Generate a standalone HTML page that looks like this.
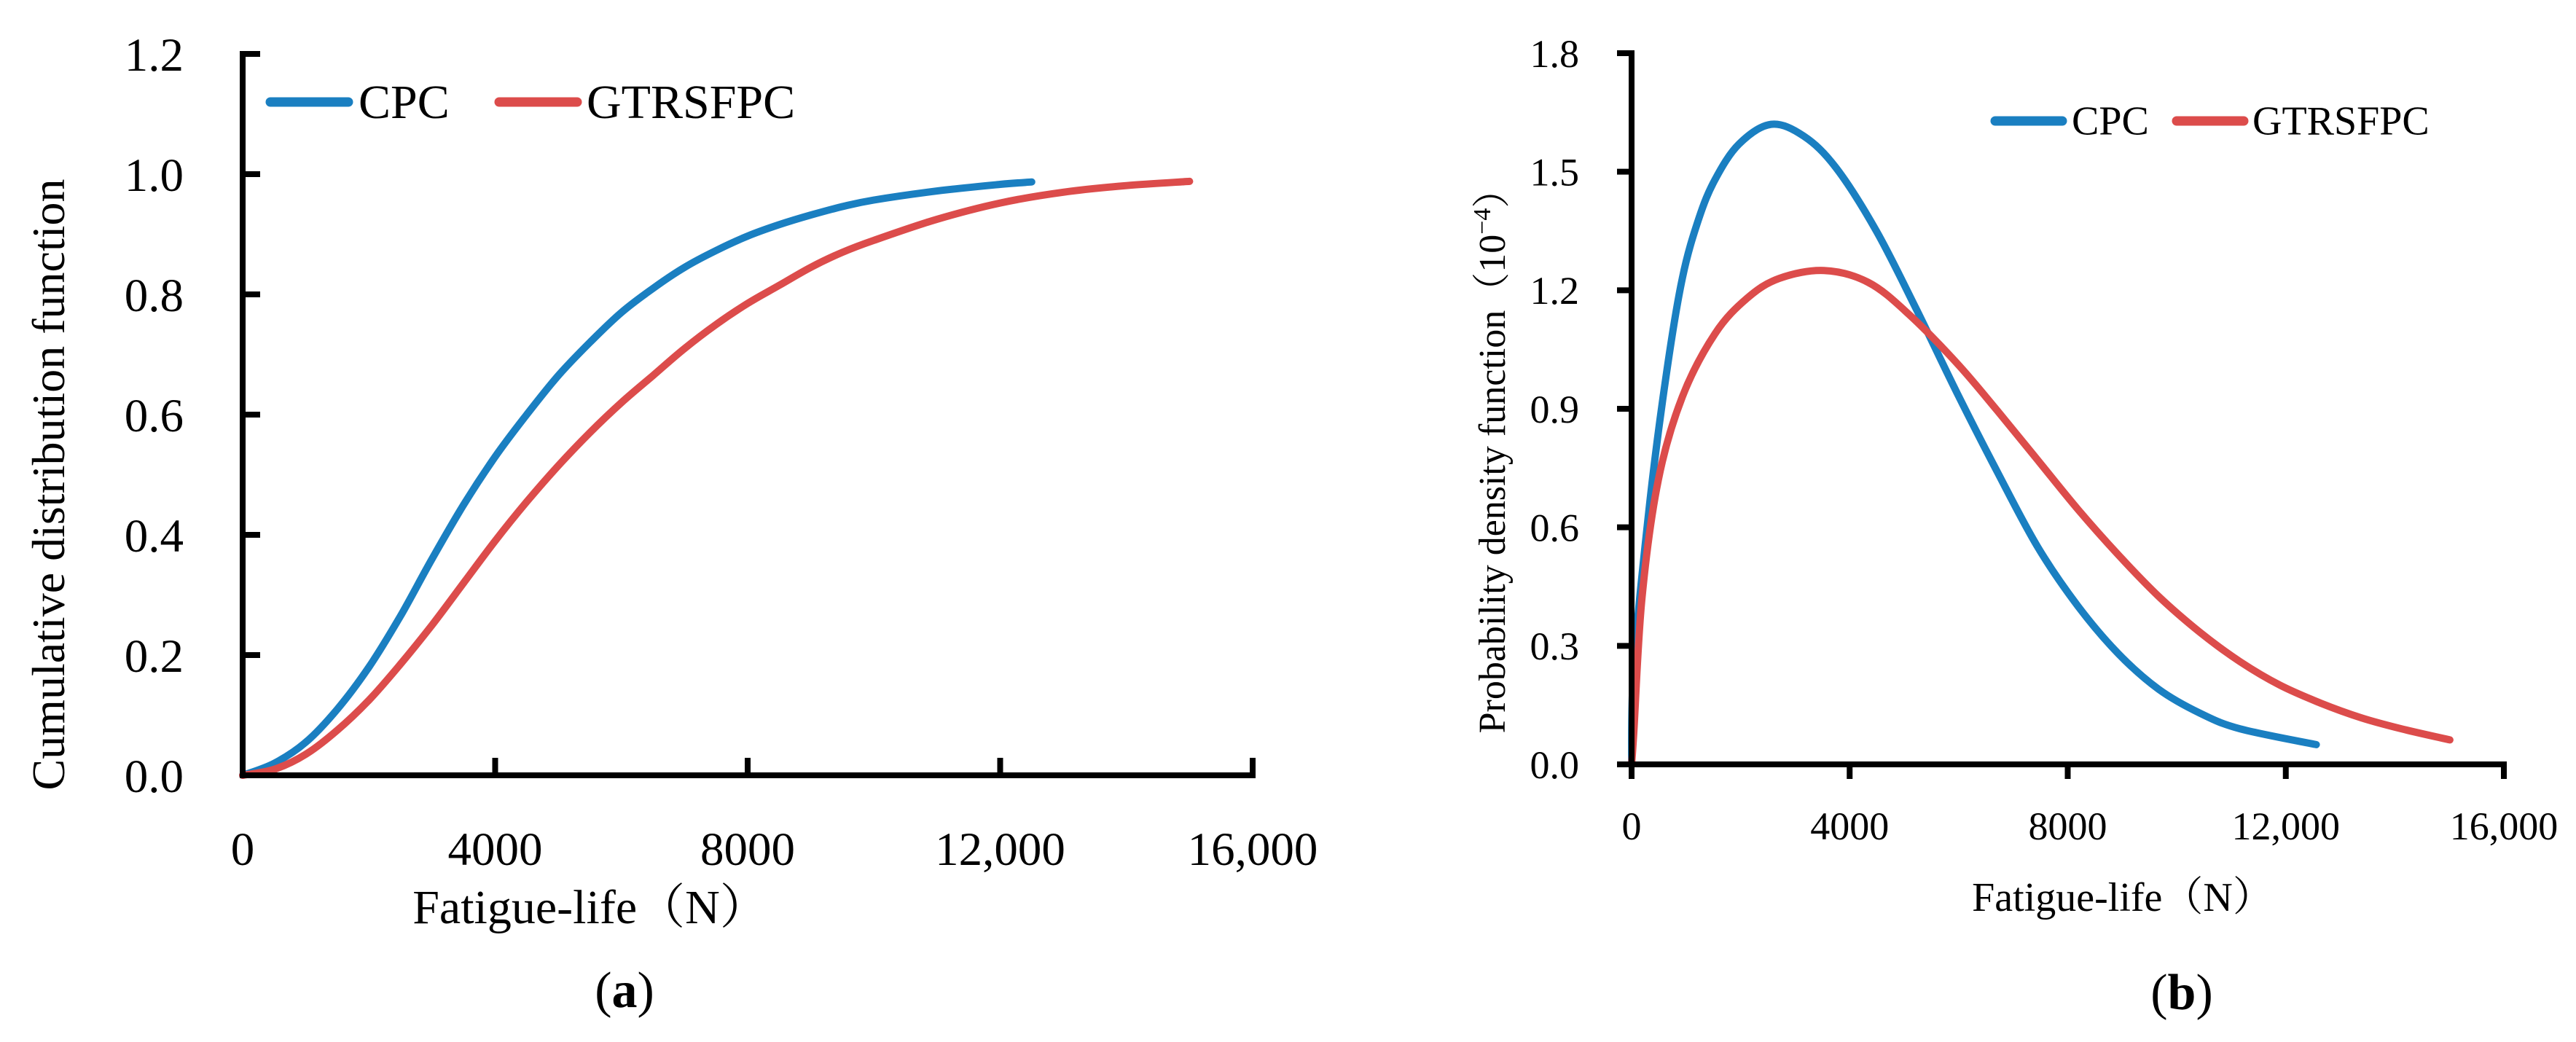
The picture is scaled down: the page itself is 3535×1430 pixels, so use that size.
<!DOCTYPE html>
<html><head><meta charset="utf-8"><style>
html,body{margin:0;padding:0;background:#fff;}
svg{display:block;font-family:"Liberation Serif","Noto Serif CJK SC",serif;}
</style></head><body>
<svg id="fig" width="3535" height="1430" viewBox="0 0 3535 1430" xmlns="http://www.w3.org/2000/svg">
<rect width="3535" height="1430" fill="#fff"/>
<g id="chartA"></g>
<g id="chartB"></g>
<text x="857" y="1382" font-size="70" text-anchor="middle">(<tspan font-weight="bold">a</tspan>)</text>
<text x="2994" y="1385" font-size="70" text-anchor="middle">(<tspan font-weight="bold">b</tspan>)</text>
</svg>
<script>
const NS="http://www.w3.org/2000/svg";
const BLUE="#1a7fc1", RED="#dc4c4b";
// ---- Chart A data (CDF) ----
const cdfCpcX=[0,500,1000,1500,2000,2500,3000,3500,4000,4500,5000,5500,6000,6500,7000,7500,8000,8500,9000,9500,10000,11000,12000,12500];
const cdfCpcY=[0,0.02,0.055,0.11,0.18,0.265,0.36,0.45,0.53,0.60,0.665,0.72,0.77,0.81,0.845,0.873,0.897,0.916,0.932,0.946,0.957,0.972,0.983,0.987];
const cdfGtrX=[0,500,1000,1500,2000,2500,3000,3500,4000,4500,5000,5500,6000,6500,7000,7500,8000,8500,9000,9500,10000,11000,12000,13000,14000,15000];
const cdfGtrY=[0,0.01,0.035,0.075,0.125,0.185,0.25,0.32,0.39,0.455,0.515,0.57,0.62,0.665,0.71,0.75,0.785,0.815,0.845,0.87,0.89,0.925,0.952,0.97,0.981,0.988];
const cdfXTicks=[0,4000,8000,12000,16000];
const cdfXLabels=["0","4000","8000","12,000","16,000"];
const cdfYTicks=[0,0.2,0.4,0.6,0.8,1.0,1.2];
const cdfYLabels=["0.0","0.2","0.4","0.6","0.8","1.0","1.2"];
// ---- Chart B data (PDF, 1e-4) ----
const pdfCpcX=[0,40,340,640,930,1230,1530,1970,2560,3160,3750,4490,5230,5970,6710,7450,8190,8930,9670,10420,11160,12560];
const pdfCpcY=[0,0.25,0.67,0.99,1.23,1.38,1.48,1.57,1.62,1.59,1.51,1.35,1.15,0.94,0.74,0.55,0.40,0.28,0.19,0.13,0.09,0.05];
const pdfGtrX=[0,40,190,490,930,1530,2120,2710,3530,4340,5080,5970,6710,7450,8190,8930,9670,10420,11160,11900,12640,13380,14120,15010];
const pdfGtrY=[0,0.08,0.42,0.72,0.93,1.09,1.18,1.23,1.25,1.22,1.14,1.015,0.895,0.77,0.645,0.53,0.425,0.335,0.26,0.2,0.155,0.118,0.09,0.062];
const pdfXTicks=[0,4000,8000,12000,16000];
const pdfXLabels=["0","4000","8000","12,000","16,000"];
const pdfYTicks=[0,0.3,0.6,0.9,1.2,1.5,1.8];
const pdfYLabels=["0.0","0.3","0.6","0.9","1.2","1.5","1.8"];

function mk(parent,tag,attrs,text){const e=document.createElementNS(NS,tag);for(const k in attrs)e.setAttribute(k,attrs[k]);if(text!==undefined)e.textContent=text;parent.appendChild(e);return e;}
function smooth(pts){let d="M"+pts[0][0].toFixed(1)+","+pts[0][1].toFixed(1);
 for(let i=0;i<pts.length-1;i++){const p0=pts[Math.max(0,i-1)],p1=pts[i],p2=pts[i+1],p3=pts[Math.min(pts.length-1,i+2)];
  const c1=[p1[0]+(p2[0]-p0[0])/6,p1[1]+(p2[1]-p0[1])/6],c2=[p2[0]-(p3[0]-p1[0])/6,p2[1]-(p3[1]-p1[1])/6];
  d+=" C"+c1[0].toFixed(1)+","+c1[1].toFixed(1)+" "+c2[0].toFixed(1)+","+c2[1].toFixed(1)+" "+p2[0].toFixed(1)+","+p2[1].toFixed(1);}
 return d;}

function draw(g,cfg){
 const sx=v=>cfg.x0+(v-cfg.xmin)/(cfg.xmax-cfg.xmin)*(cfg.x1-cfg.x0);
 const sy=v=>cfg.y0-(v-cfg.ymin)/(cfg.ymax-cfg.ymin)*(cfg.y0-cfg.y1);
 cfg.series.forEach(s=>{
  const pts=s.x.map((xv,i)=>[sx(xv),sy(s.y[i])]);
  const p=mk(g,"path",{d:smooth(pts),fill:"none",stroke:s.color,"stroke-width":cfg.lw,"stroke-linecap":"round","stroke-linejoin":"round"});
  
  
 });
 const ax=mk(g,"line",{x1:sx(cfg.xmin),y1:sy(cfg.ymax)-4,x2:sx(cfg.xmin),y2:sy(cfg.ymin)+4,stroke:"#000","stroke-width":8});
 
 
 const bx=mk(g,"line",{x1:sx(cfg.xmin)-4,y1:sy(cfg.ymin),x2:sx(cfg.xmax)+4,y2:sy(cfg.ymin),stroke:"#000","stroke-width":8});
 
 
 cfg.yt.forEach((v,i)=>{
  const y=sy(v);
  const t=mk(g,"line",{x1:sx(cfg.xmin),y1:y,x2:sx(cfg.xmin)+cfg.tickDir*cfg.tl,y2:y,stroke:"#000","stroke-width":8});
  
  
  const l=mk(g,"text",{x:cfg.ylabX,y:y+cfg.fs*0.35,"font-size":cfg.fs,"text-anchor":"end"},cfg.yl[i]);
  
  
 });
 cfg.xt.forEach((v,i)=>{
  const x=sx(v);
  const t=mk(g,"line",{x1:x,y1:sy(cfg.ymin),x2:x,y2:sy(cfg.ymin)-cfg.tickDir*cfg.tl,stroke:"#000","stroke-width":8});
  
  
  const l=mk(g,"text",{x:x,y:cfg.xlabY,"font-size":cfg.fs,"text-anchor":"middle"},cfg.xl[i]);
  
  
 });
 const xt=mk(g,"text",{x:cfg.xtitle[0],y:cfg.xtitle[1],"font-size":cfg.tfs,"text-anchor":"middle"},"Fatigue-life（N）");
 
 
 const yt=mk(g,"text",{x:0,y:0,"font-size":cfg.yfs,"text-anchor":"middle",transform:"translate("+cfg.ytitle[0]+","+cfg.ytitle[1]+") rotate(-90)"});
 yt.innerHTML=cfg.ytext;
 
 
 cfg.legend.forEach(L=>{
  const lg=mk(g,"g",{});
  
  
  mk(lg,"line",{x1:L.x1,y1:L.y,x2:L.x2,y2:L.y,stroke:L.color,"stroke-width":13,"stroke-linecap":"round"});
  mk(lg,"text",{x:L.tx,y:L.y+cfg.lfs*0.33,"font-size":cfg.lfs},L.label);
 });
}

draw(document.getElementById("chartA"),{
 x0:333,x1:1719,y0:1064,y1:74,xmin:0,xmax:16000,ymin:0,ymax:1.2,lw:10,tickDir:1,tl:24,
 fs:65,tfs:66,yfs:64,lfs:66,ylabX:252,xlabY:1187,
 xt:cdfXTicks,xl:cdfXLabels,yt:cdfYTicks,yl:cdfYLabels,
 xtitle:[810,1267],ytitle:[88,665],ytext:"Cumulative distribution function",
 series:[{name:"cpc",x:cdfCpcX,y:cdfCpcY,color:BLUE},{name:"gtrsfpc",x:cdfGtrX,y:cdfGtrY,color:RED}],
 legend:[{name:"cpc",x1:371,x2:478,y:140,tx:492,label:"CPC",color:BLUE},
         {name:"gtrsfpc",x1:685,x2:792,y:140,tx:805,label:"GTRSFPC",color:RED}]
});
draw(document.getElementById("chartB"),{
 x0:2239,x1:3436,y0:1049,y1:73,xmin:0,xmax:16000,ymin:0,ymax:1.8,lw:10,tickDir:-1,tl:20,
 fs:54,tfs:56,yfs:52,lfs:56,ylabX:2167,xlabY:1152,
 xt:pdfXTicks,xl:pdfXLabels,yt:pdfYTicks,yl:pdfYLabels,
 xtitle:[2913,1250],ytitle:[2065,620],ytext:"Probability density function（10<tspan font-size=\"34\" dy=\"-20\">−4</tspan><tspan dy=\"20\">）</tspan>",
 series:[{name:"cpc",x:pdfCpcX,y:pdfCpcY,color:BLUE},{name:"gtrsfpc",x:pdfGtrX,y:pdfGtrY,color:RED}],
 legend:[{name:"cpc",x1:2738,x2:2830,y:166,tx:2843,label:"CPC",color:BLUE},
         {name:"gtrsfpc",x1:2987,x2:3079,y:166,tx:3091,label:"GTRSFPC",color:RED}]
});
</script>
</body></html>
